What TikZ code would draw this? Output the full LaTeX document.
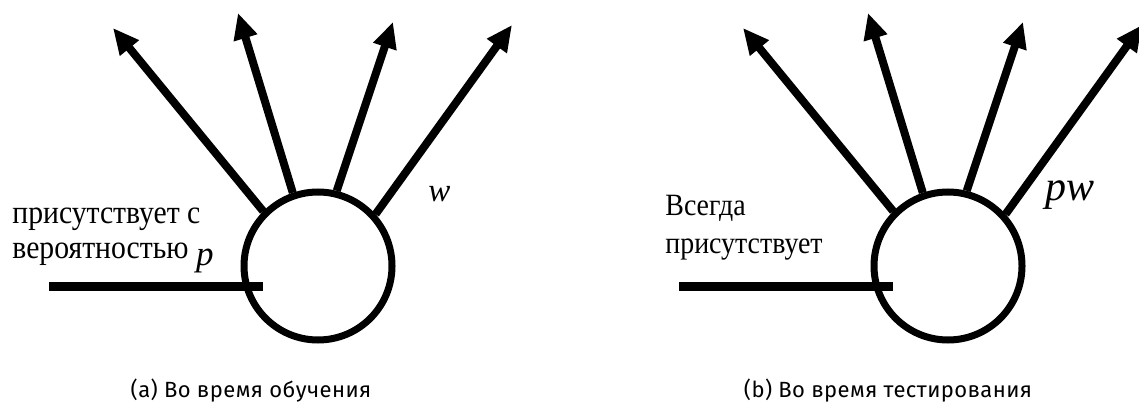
\documentclass[tikz,border=0pt]{standalone}
\usepackage{fontspec}
\setmainfont{Liberation Serif}
\newfontfamily\textlabelfont[FakeStretch=0.9]{Liberation Serif}
\newfontfamily\capfont[LetterSpace=2]{Fira Sans}
\usepackage{tikz}
\usetikzlibrary{arrows.meta}
\tikzset{
    neuron/.style={circle, draw, line width=3.5pt, minimum size=74pt, inner sep=0pt},
    synapse/.style={line width=4pt, -{Triangle[length=13pt, width=11.5pt]}},
    inputline/.style={line width=4.5pt},
    sidelabel/.style={align=left, inner sep=0pt, font=\textlabelfont\fontsize{16.5}{17.5}\selectfont},
    weightlabel/.style={inner sep=0pt, font=\itshape},
    caption/.style={inner sep=0pt, font=\capfont\fontsize{11}{13}\selectfont}
}

\begin{document}
\begin{tikzpicture}[x=0.5pt, y=-0.5pt]
    \useasboundingbox (0,0) rectangle (1139,406);

    % (a) training
    \begin{scope}[shift={(0,0)}]
        \node[neuron] (na) at (318,266) {};
        \foreach \ang/\tx/\ty [count=\k] in {135/113/28, 109/238/13, 76/393/22, 42/512/25} {
            \coordinate (ta\k) at (\tx,\ty);
            \draw[synapse] (na.\ang) -- (ta\k);
        }
        \coordinate (ina) at (49,286); \coordinate (enda) at (263,286);
        \draw[inputline] (ina) -- (enda);

        % base anchor sits on the last line
        \node[sidelabel, anchor=base west] (la) at (12,258)
            {присутствует с\\вероятностью \raisebox{-3.5pt}{\normalfont\fontsize{17.5}{17.5}\selectfont\itshape p}};
        \node[weightlabel, anchor=base west, font=\fontsize{16.5}{16.5}\selectfont\itshape] (wa) at (428,202) {w};
        \node[caption, anchor=base] (capa) at (251,397) {(a) Во время обучения};
    \end{scope}

    % (b) testing
    \begin{scope}[shift={(630,0)}]
        \node[neuron] (nb) at (318,266) {};
        \foreach \ang/\tx/\ty [count=\k] in {135/113/28, 109/238/13, 76/393/22, 42/512/25} {
            \coordinate (tb\k) at (\tx,\ty);
            \draw[synapse] (nb.\ang) -- (tb\k);
        }
        \coordinate (inb) at (49,286); \coordinate (endb) at (263,286);
        \draw[inputline] (inb) -- (endb);

        \node[sidelabel, anchor=base west, font=\textlabelfont\fontsize{15.5}{18.5}\selectfont] (lb) at (35,253)
            {Всегда\\присутствует};
        \node[weightlabel, anchor=base west, font=\fontsize{21}{21}\selectfont\itshape] (wb) at (415,201) {pw};
        \node[caption, anchor=base] (capb) at (258,397) {(b) Во время тестирования};
    \end{scope}
\end{tikzpicture}
\end{document}
